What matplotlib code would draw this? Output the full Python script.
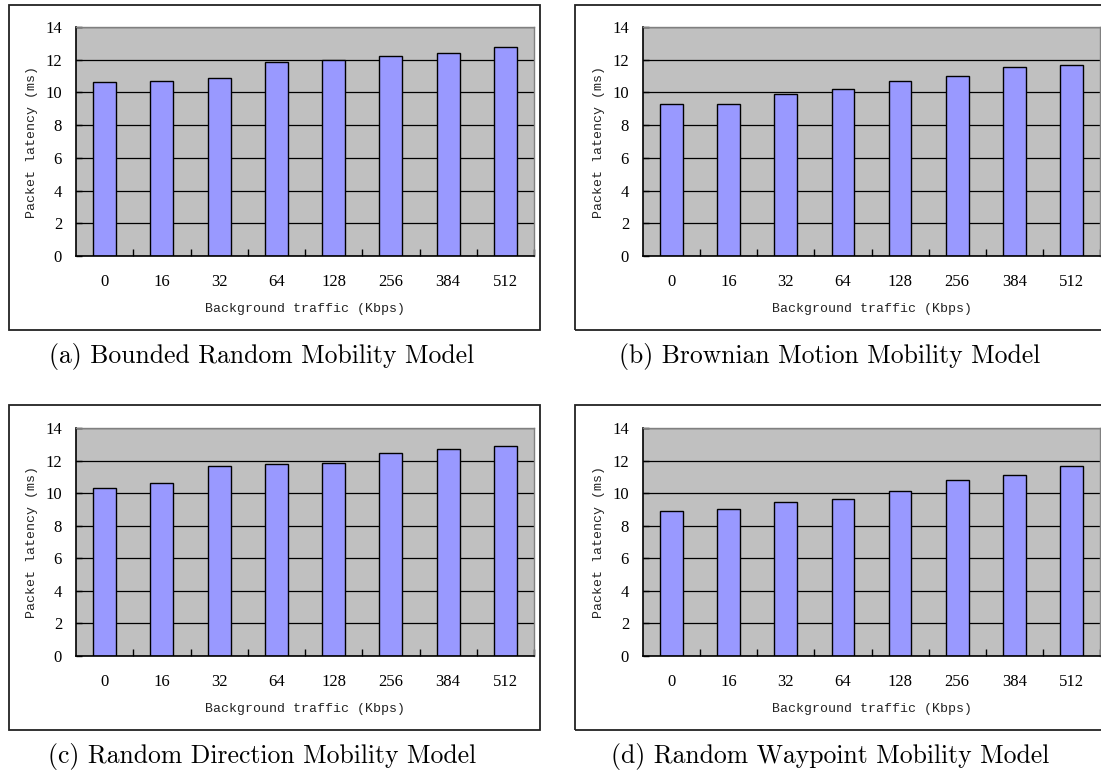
import matplotlib.pyplot as plt
from matplotlib.patches import Rectangle
import numpy as np

# Background traffic categories (Kbps)
traffic = ['0', '16', '32', '64', '128', '256', '384', '512']

# Packet latency (ms) per mobility model
bounded_random = [10.63, 10.69, 10.87, 11.87, 11.96, 12.20, 12.43, 12.79]
brownian_motion = [9.28, 9.28, 9.89, 10.22, 10.71, 11.00, 11.53, 11.67]
random_direction = [10.32, 10.63, 11.69, 11.79, 11.85, 12.49, 12.71, 12.92]
random_waypoint = [8.91, 9.05, 9.44, 9.61, 10.14, 10.81, 11.12, 11.67]

captions = ['(a) Bounded Random Mobility Model',
            '(b) Brownian Motion Mobility Model',
            '(c) Random Direction Mobility Model',
            '(d) Random Waypoint Mobility Model']
series = [bounded_random, brownian_motion, random_direction, random_waypoint]

W, H = 1101, 775
fig = plt.figure(figsize=(W / 100, H / 100), dpi=100)

# pixel layout: (plot left, plot right, plot top, plot bottom, frame left, frame right, frame top, frame bottom, caption x, caption y)
layout = [
    (76, 534, 27, 256, 9, 540, 5, 330, 262, 356),
    (643, 1100, 27, 256, 575, 1110, 5, 330, 830, 356),
    (76, 534, 428, 656, 9, 540, 405, 730, 262, 756),
    (643, 1100, 428, 656, 575, 1110, 405, 730, 830, 756),
]

tick_font = dict(family='Liberation Serif', size=12)
label_font = dict(family='Liberation Mono', size=9.5)

x = np.arange(len(traffic))
for vals, cap, (pl, pr, pt, pb, fl, fr, ft, fb, cx, cy) in zip(series, captions, layout):
    fig.patches.append(Rectangle((fl / W, 1 - fb / H), (fr - fl) / W, (fb - ft) / H,
                                 transform=fig.transFigure, fill=False,
                                 edgecolor='#222222', lw=1.3))
    ax = fig.add_axes([pl / W, 1 - pb / H, (pr - pl) / W, (pb - pt) / H])
    ax.set_facecolor('#c0c0c0')
    ax.set_axisbelow(True)
    ax.bar(x, vals, width=0.4, color='#9999ff', edgecolor='black', linewidth=1)
    ax.set_xlim(-0.5, len(traffic) - 0.5)
    ax.set_ylim(0, 14)
    ax.set_yticks(range(0, 15, 2))
    ax.set_yticklabels([str(v) for v in range(0, 15, 2)], **tick_font)
    ax.yaxis.grid(True, color='black', linewidth=0.9)
    ax.tick_params(axis='y', direction='in', length=4, width=1, pad=10)
    ax.set_xticks(x + 0.5)
    ax.set_xticklabels([])
    ax.tick_params(axis='x', which='major', direction='in', length=5, width=1)
    ax.set_xticks(x, minor=True)
    ax.set_xticklabels(traffic, minor=True, **tick_font)
    ax.tick_params(axis='x', which='minor', length=0, pad=13)
    for s in ['left', 'bottom']:
        ax.spines[s].set_color('black')
        ax.spines[s].set_linewidth(1.2)
    for s in ['top', 'right']:
        ax.spines[s].set_color('#808080')
        ax.spines[s].set_linewidth(1)
    ax.set_xlabel('Background traffic (Kbps)', labelpad=9, color='#222222', **label_font)
    ax.set_ylabel('Packet latency (ms)', labelpad=5, color='#222222', **label_font)
    fig.text(cx / W, 1 - cy / H, cap, ha='center', va='center',
             family='cmr10', fontsize=18.5)

fig.savefig('out.png', dpi=100)
